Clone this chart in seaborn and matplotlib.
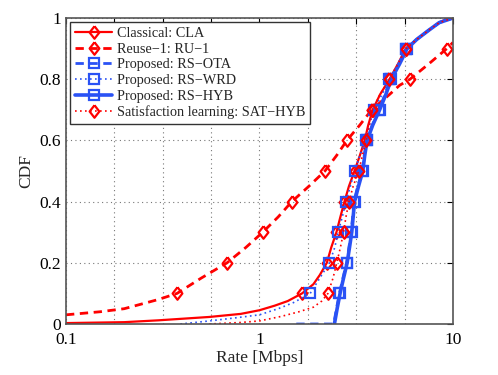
import numpy as np
import pandas as pd
import matplotlib
matplotlib.use('Agg')
import matplotlib.pyplot as plt
from matplotlib.ticker import NullLocator, FixedLocator
import seaborn as sns

# ── Data ─────────────────────────────────────────────────────
cla_x = [0.1, 0.2, 0.3, 0.55, 0.8, 1.0, 1.2, 1.4, 1.66, 1.9, 2.05, 2.23, 2.35, 2.5, 2.62,
         2.75, 2.9, 3.1, 3.3, 3.5, 3.65, 3.85, 4.2, 4.7, 5.2, 5.7, 6.5, 7.5, 8.5, 9.5]
cla_y = [0.003, 0.006, 0.012, 0.023, 0.033, 0.045, 0.06, 0.075, 0.1, 0.13, 0.16, 0.2, 0.25, 0.3, 0.35,
         0.4, 0.45, 0.5, 0.55, 0.6, 0.65, 0.7, 0.75, 0.8, 0.85, 0.9, 0.93, 0.96, 0.985, 1.0]

ru1_x = [0.1, 0.15, 0.2, 0.3, 0.375, 0.5, 0.68, 0.85, 1.04, 1.25, 1.47, 1.8, 2.18, 2.5,
         2.83, 3.3, 3.8, 4.7, 5.3, 6.0, 7.5, 9.3, 10.0]
ru1_y = [0.03, 0.04, 0.05, 0.08, 0.1, 0.15, 0.2, 0.25, 0.3, 0.35, 0.4, 0.45, 0.5, 0.55,
         0.6, 0.65, 0.7, 0.75, 0.78, 0.8, 0.85, 0.9, 0.92]

ota_x = [1.55, 2.42, 2.5, 2.59, 2.7, 2.82, 2.9, 2.98, 3.03, 3.08, 3.22, 3.4, 3.48, 3.58,
         3.83, 4.15, 4.45, 4.75, 5.25, 5.75, 6.5, 7.5, 8.5, 10.0]
ota_y = [0.0, 0.0, 0.05, 0.1, 0.15, 0.2, 0.25, 0.3, 0.35, 0.4, 0.45, 0.5, 0.55, 0.6,
         0.65, 0.7, 0.75, 0.8, 0.85, 0.9, 0.93, 0.96, 0.985, 1.0]

wrd_x = [0.39, 0.55, 0.75, 1.0, 1.25, 1.5, 1.83, 2.05, 2.3, 2.45, 2.55, 2.68, 2.8, 2.95,
         3.1, 3.3, 3.55, 3.7, 3.9, 4.3, 4.7, 5.2, 5.7, 6.5, 7.5, 8.5, 10.0]
wrd_y = [0.0, 0.01, 0.02, 0.03, 0.05, 0.07, 0.1, 0.15, 0.2, 0.25, 0.3, 0.35, 0.4, 0.45,
         0.5, 0.55, 0.6, 0.65, 0.7, 0.75, 0.8, 0.85, 0.9, 0.93, 0.96, 0.985, 1.0]

hyb_x = [2.44, 2.52, 2.61, 2.72, 2.84, 2.92, 3.0, 3.05, 3.1, 3.25, 3.42, 3.5, 3.6,
         3.85, 4.18, 4.5, 4.8, 5.3, 5.8, 6.5, 7.5, 8.5, 10.0]
hyb_y = [0.0, 0.05, 0.1, 0.15, 0.2, 0.25, 0.3, 0.35, 0.4, 0.45, 0.5, 0.55, 0.6,
         0.65, 0.7, 0.75, 0.8, 0.85, 0.9, 0.93, 0.96, 0.985, 1.0]

sat_x = [0.55, 0.8, 1.0, 1.3, 1.6, 1.9, 2.1, 2.26, 2.4, 2.51, 2.62, 2.72, 2.8, 2.9,
         3.05, 3.26, 3.4, 3.56, 3.7, 3.83, 4.2, 4.7, 5.2, 5.74, 6.5, 7.5, 8.5, 10.0]
sat_y = [0.0, 0.005, 0.01, 0.025, 0.04, 0.055, 0.075, 0.1, 0.15, 0.2, 0.25, 0.3, 0.35, 0.4,
         0.45, 0.5, 0.55, 0.6, 0.65, 0.7, 0.75, 0.8, 0.85, 0.9, 0.93, 0.96, 0.985, 1.0]

labels = ['Classical: CLA', 'Reuse\u22121: RU\u22121', 'Proposed: RS\u2212OTA',
          'Proposed: RS\u2212WRD', 'Proposed: RS\u2212HYB', 'Satisfaction learning: SAT\u2212HYB']

y_ticks = [0, 0.2, 0.4, 0.6, 0.8, 1.0]
y_ticklabels = ['0', '0.2', '0.4', '0.6', '0.8', '1']

# ── Style ────────────────────────────────────────────────────
sns.set_style('white')
plt.rcParams['font.family'] = ['Liberation Serif', 'DejaVu Serif']

RED = '#ff0000'
BLUE = '#2a52f5'
# MATLAB-like diamond (a bit taller than wide)
DIAMOND = [(0, 1), (0.78, 0), (0, -1), (-0.78, 0), (0, 1)]

series = [
    (cla_x, cla_y, dict(color=RED, lw=1.6, ls='-', marker=DIAMOND, ms=9)),
    (ru1_x, ru1_y, dict(color=RED, lw=2.0, ls=(0, (3, 2)), marker=DIAMOND, ms=9)),
    (ota_x, ota_y, dict(color=BLUE, lw=2.0, ls=(0, (3, 2)), marker='s', ms=6.5)),
    (wrd_x, wrd_y, dict(color=BLUE, lw=1.2, ls=(0, (1, 2)), marker='s', ms=6.5)),
    (hyb_x, hyb_y, dict(color=BLUE, lw=2.6, ls='-', marker='s', ms=6.5)),
    (sat_x, sat_y, dict(color=RED, lw=1.2, ls=(0, (1, 2)), marker=DIAMOND, ms=9)),
]

fig = plt.figure(figsize=(4.98, 3.75), dpi=100)
ax = fig.add_axes([0.1325, 0.136, 0.777, 0.816])

for (xs, ys, st), lab in zip(series, labels):
    df = pd.DataFrame({'x': xs, 'y': ys})
    # markers only on the 0.1 ... 0.9 levels
    marks = [i for i, v in enumerate(ys) if 0 < v < 1 and np.isclose(v * 10, round(v * 10))]
    sns.lineplot(data=df, x='x', y='y', ax=ax, estimator=None, sort=False,
                 color=st['color'], linewidth=st['lw'], linestyle=st['ls'],
                 marker=st['marker'], markersize=st['ms'], markerfacecolor='none',
                 markeredgecolor=st['color'], markeredgewidth=1.6,
                 markevery=marks, label=lab)

ax.set_xscale('log')
ax.set_xlim(0.1, 10)
ax.set_ylim(0, 1)

# MATLAB-style grid: lines every quarter decade, labels only at decades
grid_x = [10 ** (k / 4) for k in range(-4, 5)]
ax.xaxis.set_major_locator(FixedLocator(grid_x))
ax.xaxis.set_minor_locator(NullLocator())
ax.set_xticklabels(['0.1' if np.isclose(g, 0.1) else '1' if np.isclose(g, 1) else
                    '10' if np.isclose(g, 10) else '' for g in grid_x])
ax.set_yticks(y_ticks)
ax.set_yticklabels(y_ticklabels)

ax.grid(True, color='#777777', linestyle=(0, (1, 3)), linewidth=0.8)
ax.tick_params(direction='in', top=True, right=True, length=4, width=0.8,
               labelsize=12.5, colors='black')
ax.tick_params(axis='x', pad=6)
for sp in ax.spines.values():
    sp.set_color('#555555')
    sp.set_linewidth(1.2)

ax.set_xlabel('Rate [Mbps]', fontsize=12.5, labelpad=1)
ax.set_ylabel('CDF', fontsize=12.5, labelpad=4)

leg = ax.legend(loc='upper left', fontsize=10.3, handlelength=2.6, handletextpad=0.3,
                labelspacing=0.18, borderpad=0.35, borderaxespad=0.3, fancybox=False,
                framealpha=1, edgecolor='#333333')
leg.get_frame().set_linewidth(1.0)

plt.savefig('out.png', dpi=100)
plt.close()
